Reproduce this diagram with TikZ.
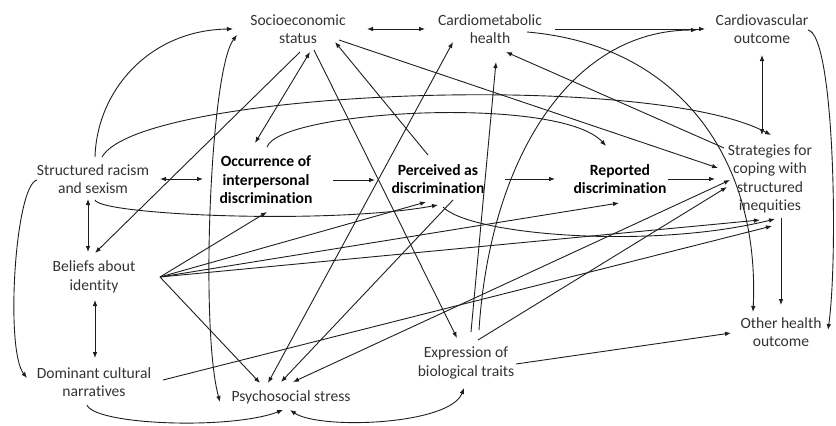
\documentclass[tikz,border=0pt]{standalone}
\usepackage{fontspec}
\setmainfont{Carlito}[Ligatures=NoCommon]
\usetikzlibrary{arrows.meta,calc}
\definecolor{txtgray}{HTML}{333333}
\definecolor{linegray}{HTML}{1E1E1E}
\begin{document}
\begin{tikzpicture}[x=1pt,y=-1pt,
  lbl/.style={align=center,font=\fontsize{15.6}{18.5}\selectfont,text=txtgray,inner sep=0pt},
  blbl/.style={lbl,font=\fontsize{15.6}{18.5}\selectfont\bfseries,text=black},
  tip/.tip={Latex[length=6pt,width=4.6pt]},
  conn/.style={draw=linegray,line width=0.9pt},
  ar/.style={conn,-tip},
  dar/.style={conn,tip-tip}]
\useasboundingbox (0,0) rectangle (836,426);

% factors
\node[lbl]  (ses) at (298,29)  {Socioeconomic\\status};
\node[lbl]  (cmh) at (490,29)  {Cardiometabolic\\health};
\node[lbl]  (cvo) at (762,29)  {Cardiovascular\\outcome};
\node[lbl]  (sr)  at (93,179)  {Structured racism\\and sexism};
\node[blbl] (occ) at (266,180) {Occurrence of\\interpersonal\\discrimination};
\node[blbl] (per) at (438,179) {Perceived as\\discrimination};
\node[blbl] (rep) at (620,179) {Reported\\discrimination};
\node[lbl]  (str) at (770,179) {Strategies for\\coping with\\structured\\inequities};
\node[lbl]  (bel) at (94,277)  {Beliefs about\\identity};
\node[lbl]  (dom) at (94,382)  {Dominant cultural\\narratives};
\node[lbl]  (pss) at (291,397) {Psychosocial stress};
\node[lbl]  (exp) at (466,363) {Expression of\\biological traits};
\node[lbl]  (oho) at (781,332) {Other health\\outcome};

% top row
\draw[dar] ($(ses)+(69,0)$) -- ($(cmh)+(-65,0)$);
\draw[ar]  ($(cmh)+(65,0)$) -- ($(cvo)+(-57,0)$);
\draw[dar] ($(cvo)+(0,26)$) -- ($(str)+(-8,-44)$);
\draw[ar]  ($(cmh)+(37,3)$) .. controls (680,45) and (760,160) .. ($(oho)+(-28,-20)$);
\draw[ar]  ($(cvo)+(46,1)$) .. controls (835,35) and (838,260) .. ($(oho)+(47,-2)$);

% from socioeconomic status
\draw[ar]  ($(sr)+(2,-22)$) .. controls (97,90) and (150,30) .. ($(ses)+(-65,0)$);
\draw[dar] ($(ses)+(-61,6)$) .. controls (210,70) and (200,330) .. ($(pss)+(-71,5)$);
\draw[ar]  ($(ses)+(2,23)$) -- ($(bel)+(1,-24)$);
\draw[dar] ($(ses)+(12,23)$) -- ($(occ)+(-11,-37)$);
\draw[ar]  ($(ses)+(16,21)$) -- ($(exp)+(-9,-25)$);
\draw[ar]  ($(per)+(-10,-24)$) -- ($(ses)+(37,13)$);
\draw[ar]  ($(ses)+(41,11)$) -- ($(str)+(-52,-11)$);
\draw[ar]  ($(str)+(-46,-31)$) -- ($(cmh)+(16,23)$);

% discrimination chain
\draw[dar] ($(sr)+(67,0)$) -- ($(occ)+(-63,-1)$);
\draw[ar]  ($(occ)+(67,0)$) -- ($(per)+(-63,1)$);
\draw[ar]  ($(per)+(67,0)$) -- ($(rep)+(-65,0)$);
\draw[ar]  ($(rep)+(48,0)$) -- ($(str)+(-55,0)$);
\draw[ar]  ($(sr)+(9,-22)$) .. controls (140,90) and (650,70) .. ($(str)+(1,-44)$);
\draw[ar]  ($(occ)+(1,-33)$) .. controls (280,110) and (560,95) .. ($(rep)+(-14,-33)$);
\draw[ar]  ($(sr)+(2,21)$) .. controls (100,215) and (330,225) .. ($(per)+(0,26)$);
\draw[ar]  ($(per)+(5,28)$) .. controls (470,235) and (650,250) .. ($(str)+(5,40)$);

% left column
\draw[dar] ($(sr)+(-5,20)$) -- ($(bel)+(-6,-25)$);
\draw[dar] ($(bel)+(1,23)$) -- ($(dom)+(1,-24)$);
\draw[ar]  ($(sr)+(-56,1)$) .. controls (15,185) and (5,350) .. ($(dom)+(-67,-4)$);
\draw[ar]  ($(dom)+(-7,23)$) .. controls (95,425) and (230,430) .. ($(pss)+(-8,13)$);

% from beliefs about identity
\draw[ar]  ($(bel)+(66,0)$) -- ($(occ)+(1,32)$);
\draw[ar]  ($(bel)+(66,0)$) -- ($(per)+(-12,23)$);
\draw[ar]  ($(bel)+(66,0)$) -- ($(rep)+(-1,24)$);
\draw[ar]  ($(bel)+(66,0)$) -- ($(str)+(-10,41)$);
\draw[ar]  ($(bel)+(66,0)$) -- ($(pss)+(-31,-14)$);
\draw[ar]  ($(dom)+(69,-2)$) -- ($(str)+(2,47)$);

% psychosocial stress
\draw[dar] ($(pss)+(-23,-14)$) -- ($(cmh)+(-37,13)$);
\draw[ar]  ($(per)+(15,21)$) -- ($(pss)+(-10,-15)$);
\draw[dar] ($(str)+(-40,1)$) -- ($(pss)+(2,-15)$);
\draw[dar] ($(pss)+(-1,13)$) .. controls (320,430) and (450,425) .. ($(exp)+(-2,25)$);

% expression of biological traits
\draw[ar]  ($(exp)+(50,1)$) -- ($(oho)+(-50,1)$);
\draw[ar]  ($(exp)+(5,-31)$) -- ($(cmh)+(6,33)$);
\draw[ar]  ($(exp)+(13,-33)$) .. controls (490,160) and (570,30) .. ($(cvo)+(-65,1)$);
\draw[ar]  ($(exp)+(12,-23)$) -- ($(str)+(-43,8)$);

% strategies to other outcome
\draw[ar]  ($(str)+(11,39)$) -- ($(oho)+(0,-27)$);
\end{tikzpicture}
\end{document}
